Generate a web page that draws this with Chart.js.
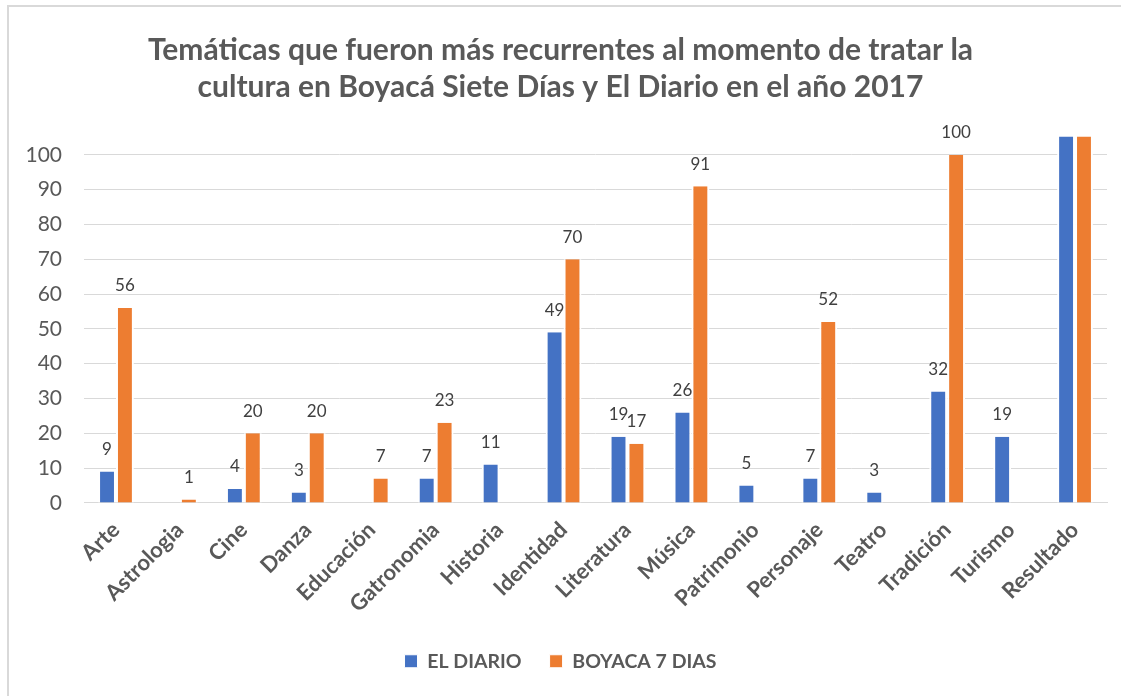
<!DOCTYPE html>
<html>
<head>
<meta charset="utf-8">
<script src="https://cdn.jsdelivr.net/npm/chart.js@4"></script>
<style>
    html, body { margin: 0; padding: 0; background: #fff; }
    #wrap { position: relative; width: 1121px; height: 696px; overflow: hidden; }
    #frame { position: absolute; left: 7px; top: 5px; width: 1200px; height: 800px;
             border-left: 2px solid #d9d9d9; border-top: 2px solid #d9d9d9; }
    canvas { position: absolute; left: 0; top: 0; }
</style>
</head>
<body>
<div id="wrap">
    <div id="frame"></div>
    <canvas id="chart" width="1121" height="696"></canvas>
</div>
<script>
// chart data
const categories = ['Arte', 'Astrologia', 'Cine', 'Danza', 'Educación', 'Gatronomia', 'Historia',
    'Identidad', 'Literatura', 'Música', 'Patrimonio', 'Personaje', 'Teatro', 'Tradición',
    'Turismo', 'Resultado'];
const elDiario = [9, 0, 4, 3, 0, 7, 11, 49, 19, 26, 5, 7, 3, 32, 19, 194];
const boyaca7Dias = [56, 1, 20, 20, 7, 23, 0, 70, 17, 91, 0, 52, 0, 100, 0, 457];
const yTicks = [0, 10, 20, 30, 40, 50, 60, 70, 80, 90, 100];
const titleLines = ['Temáticas que fueron más recurrentes al momento de tratar la',
    'cultura en Boyacá Siete Días y El Diario en el año 2017'];

const FONT = 'Lato, "Open Sans", sans-serif';
const Y_MAX = 105.2;

// value labels above the bars (skip zeros and clipped bars)
const barLabels = {
    id: 'barLabels',
    afterDatasetsDraw(chart) {
        const ctx = chart.ctx;
        ctx.save();
        ctx.font = '17px ' + FONT;
        ctx.fillStyle = '#404040';
        ctx.textAlign = 'center';
        ctx.textBaseline = 'middle';
        chart.data.datasets.forEach((ds, i) => {
            const meta = chart.getDatasetMeta(i);
            meta.data.forEach((bar, j) => {
                const v = ds.data[j];
                if (!v || v > Y_MAX) return;
                ctx.fillText(String(v), bar.x, bar.y - 22);
            });
        });
        ctx.restore();
    }
};

const barBorder = { left: 2, right: 2, top: 0, bottom: 0 };

new Chart(document.getElementById('chart'), {
    type: 'bar',
    data: {
        labels: categories,
        datasets: [
            {
                label: 'EL DIARIO',
                data: elDiario,
                backgroundColor: '#4472c4',
                borderColor: '#ffffff',
                borderWidth: barBorder,
                borderSkipped: false
            },
            {
                label: 'BOYACA 7 DIAS',
                data: boyaca7Dias,
                backgroundColor: '#ed7d31',
                borderColor: '#ffffff',
                borderWidth: barBorder,
                borderSkipped: false
            }
        ]
    },
    options: {
        responsive: false,
        animation: false,
        layout: { padding: { left: 14, right: 14, top: 22, bottom: 15 } },
        datasets: { bar: { barPercentage: 1, categoryPercentage: 0.56 } },
        plugins: {
            title: {
                display: true,
                text: titleLines,
                color: '#595959',
                font: { family: FONT, size: 30, weight: 'bold', lineHeight: 1.23 },
                padding: { top: 10, bottom: 31 }
            },
            legend: {
                position: 'bottom',
                labels: {
                    color: '#595959',
                    font: { family: FONT, size: 19.5, weight: 'bold' },
                    boxWidth: 13,
                    boxHeight: 13,
                    padding: 28
                }
            },
            tooltip: { enabled: false }
        },
        scales: {
            x: {
                grid: { display: false },
                border: { color: '#d9d9d9', width: 1 },
                ticks: {
                    color: '#595959',
                    font: { family: FONT, size: 22, weight: 'bold' },
                    maxRotation: 45,
                    minRotation: 45,
                    padding: 6
                }
            },
            y: {
                min: 0,
                max: Y_MAX,
                afterBuildTicks: (axis) => {
                    axis.ticks = yTicks.map(v => ({ value: v }));
                },
                afterFit: (axis) => { axis.width = 70; },
                grid: { color: '#d9d9d9', lineWidth: 1, drawTicks: false },
                border: { display: false },
                ticks: {
                    color: '#595959',
                    font: { family: FONT, size: 21 },
                    padding: 22
                }
            }
        }
    },
    plugins: [barLabels]
});
</script>
</body>
</html>
